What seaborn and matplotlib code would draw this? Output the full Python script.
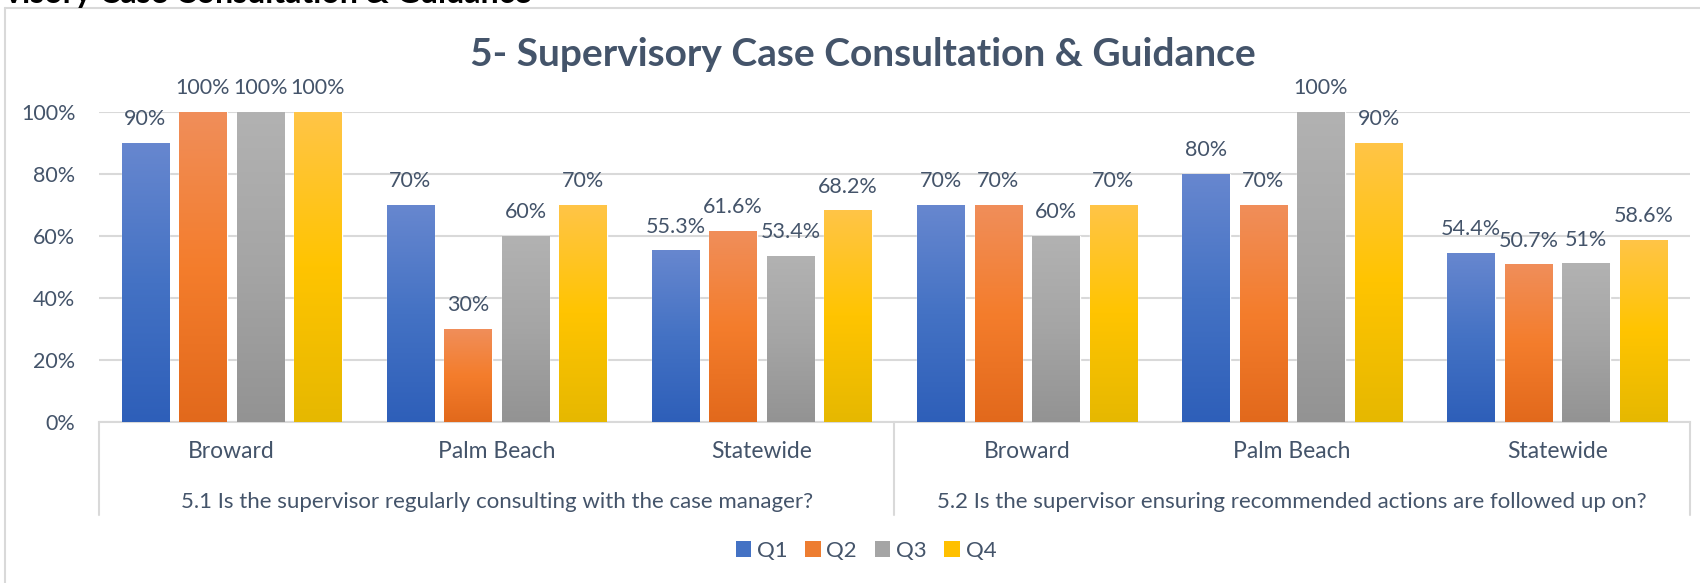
import numpy as np
import pandas as pd
import matplotlib
matplotlib.use("Agg")
import matplotlib.pyplot as plt
import seaborn as sns
from matplotlib.colors import LinearSegmentedColormap
from matplotlib.patches import Patch
from matplotlib.lines import Line2D

# data
questions = ["5.1 Is the supervisor regularly consulting with the case manager?",
             "5.2 Is the supervisor ensuring recommended actions are followed up on?"]
counties = ["Broward", "Palm Beach", "Statewide"]
quarters = ["Q1", "Q2", "Q3", "Q4"]
q51 = {"Q1": [90, 70, 55.3], "Q2": [100, 30, 61.6], "Q3": [100, 60, 53.4], "Q4": [100, 70, 68.2]}
q52 = {"Q1": [70, 80, 54.4], "Q2": [70, 70, 50.7], "Q3": [60, 100, 51], "Q4": [70, 90, 58.6]}

rows = []
for qi, block in enumerate([q51, q52]):
    for ci, c in enumerate(counties):
        for q in quarters:
            rows.append({"slot": f"{qi}-{c}", "county": c, "quarter": q, "value": block[q][ci]})
df = pd.DataFrame(rows)

# colours: (bottom, middle, top) per quarter, Excel-style gradient
base = {"Q1": "#4472C4", "Q2": "#ED7D31", "Q3": "#A5A5A5", "Q4": "#FFC000"}
grad = {"Q1": ["#2E5FB9", "#4472C4", "#6787CF"],
        "Q2": ["#E2691C", "#F47D2C", "#F08E5A"],
        "Q3": ["#939393", "#A5A5A5", "#B2B2B2"],
        "Q4": ["#E6B800", "#FFC400", "#FFC547"]}
txt = "#44546A"
gridc = "#D9D9D9"
fs = 15.5

sns.set_theme(style="white")
plt.rcParams["font.family"] = ["Lato", "DejaVu Sans"]

fig = plt.figure(figsize=(17, 5.83), dpi=100)
ax = fig.add_axes([99/1700, 1-422/583, (1690-99)/1700, 310/583])

sns.barplot(data=df, x="slot", y="value", hue="quarter", palette=base,
            width=0.868, gap=0.174, legend=False, ax=ax, zorder=2)

ax.set_ylim(0, 100)
ax.set_xlim(-0.5, 5.5)
ax.set_yticks(np.arange(0, 101, 20))
ax.set_yticklabels([f"{t}%" for t in range(0, 101, 20)])
ax.set_xticks(range(6))
ax.set_xticklabels(counties * 2)
ax.set_xlabel("")
ax.set_ylabel("")
ax.tick_params(axis="y", length=0, pad=17, labelsize=fs, labelcolor=txt)
ax.tick_params(axis="x", length=0, pad=14, labelsize=16.5, labelcolor=txt)
ax.grid(axis="y", color=gridc, linewidth=1.5, zorder=0)
ax.set_axisbelow(True)
for s in ["top", "right", "left"]:
    ax.spines[s].set_visible(False)
ax.spines["bottom"].set_color(gridc)
ax.spines["bottom"].set_linewidth(1.5)

# gradient fill + data labels
for cont, q in zip(ax.containers, quarters):
    cmap = LinearSegmentedColormap.from_list(q, grad[q])
    for bar in cont:
        x, w, h = bar.get_x(), bar.get_width(), bar.get_height()
        g = np.linspace(0, 1, 256).reshape(-1, 1)
        ax.imshow(g, extent=[x, x + w, 0, h], origin="lower", cmap=cmap,
                  aspect="auto", zorder=3)
        ax.annotate(f"{h:g}%", (x + w/2, h), xytext=(0, 13), textcoords="offset points",
                    ha="center", va="baseline", fontsize=fs, color=txt)
ax.set_xlim(-0.5, 5.5)
ax.set_ylim(0, 100)

# outer category labels and separators
xt = ax.get_xaxis_transform()
for i, qtext in enumerate(questions):
    ax.text(1 + 3*i, -0.258, qtext, transform=xt, ha="center", va="center",
            fontsize=16, color=txt)
for xv in [-0.5, 2.5, 5.5]:
    ax.add_line(Line2D([xv, xv], [0, -0.30], transform=xt, color=gridc,
                       linewidth=1.5, clip_on=False))

# title and chart frame
fig.text(863/1700, 1-54/583, "5- Supervisory Case Consultation & Guidance",
         ha="center", va="center", fontsize=28, fontweight="bold", color=txt)
# heading of the page above the chart, cut by the screenshot edge
fig.text(531/1700, 1-3/583, "5- Supervisory Case Consultation & Guidance",
         ha="right", va="baseline", fontsize=23, fontweight="bold", color="black")
fig.add_artist(Line2D([5/1700, 5/1700], [0, 1-8/583], transform=fig.transFigure,
                      color=gridc, linewidth=1.5))
fig.add_artist(Line2D([5/1700, 1], [1-8/583, 1-8/583], transform=fig.transFigure,
                      color=gridc, linewidth=1.5))

handles = [Patch(facecolor=base[q], edgecolor="none", label=q) for q in quarters]
fig.legend(handles=handles, loc="center", bbox_to_anchor=(866/1700, 1-551/583),
           ncol=4, frameon=False, fontsize=16, labelcolor=txt,
           handlelength=0.7, handleheight=0.7, handletextpad=0.25, columnspacing=0.8)

fig.savefig("out.png", dpi=100)
